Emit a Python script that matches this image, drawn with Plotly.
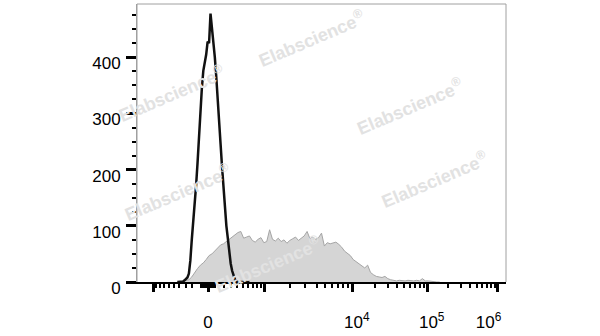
import numpy as np
import plotly.graph_objects as go

# ---- data -------------------------------------------------------------
# display channels (0-256 display scale) for each histogram bin
black_channels = list(range(28, 79))
black_counts = [0, 0, 0, 0, 1, 3, 5, 8, 15, 38,
                75, 104, 140, 172, 212, 262, 305, 345, 376, 390,
                405, 428, 425, 478, 455, 425, 400, 365, 330, 290,
                245, 205, 165, 132, 100, 78, 50, 33, 20, 10,
                4, 2, 1, 0, 0, 0, 0, 0, 0, 0, 0]

gray_channels = list(range(28, 212, 2))
gray_counts = [0, 0, 1, 3, 4, 9, 17, 24, 30, 34,
               40, 47, 50, 55, 61, 66, 68, 72, 76, 80,
               84, 88, 90, 78, 80, 82, 74, 71, 76, 79,
               70, 72, 93, 76, 73, 78, 72, 75, 69, 74,
               77, 80, 74, 78, 82, 90, 77, 80, 76, 79,
               87, 64, 70, 68, 70, 71, 67, 62, 55, 51,
               47, 40, 36, 33, 28, 25, 30, 17, 13, 10,
               9, 8, 10, 6, 4, 3, 2, 3, 2, 2,
               3, 2, 2, 3, 2, 6, 2, 2, 1, 1,
               0, 0]

x_major_values = [-1000, 0, 1000, 1e4, 1e5, 1e6]
x_major_labels = ["", "0", "", "&nbsp;&nbsp;10<sup>4</sup>",
                  "&nbsp;&nbsp;10<sup>5</sup>",
                  "10<sup>6</sup>&nbsp;&nbsp;&nbsp;&nbsp;"]
x_minor_values = ([-v for v in range(900, 100, -100)] + [-v for v in range(90, 0, -10)]
                  + list(range(10, 100, 10)) + list(range(200, 1000, 100))
                  + list(range(2000, 10000, 1000)) + list(range(20000, 100000, 10000))
                  + list(range(200000, 1000000, 100000)))
y_tick_values = [0, 100, 200, 300, 400]
y_tick_labels = ["0", "100", "200", "300", "400"]

watermark_text = "Elabscience<sup>®</sup>"

# ---- biexponential-like display scale ---------------------------------
SCALE_VALUES = [-1000, -100, 0, 100, 1000, 1e4, 1e5, 1e6]
SCALE_CHANNELS = [11.1, 43.7, 49.3, 54.8, 88.4, 149.2, 201.2, 250.4]


def to_channel(v):
    u = np.arcsinh(np.asarray(v, dtype=float) / 450.0)
    ua = np.arcsinh(np.asarray(SCALE_VALUES, dtype=float) / 450.0)
    return np.interp(u, ua, SCALE_CHANNELS).tolist()


FONT = "Liberation Sans, Arial, sans-serif"

fig = go.Figure()
fig.add_trace(go.Scatter(x=gray_channels, y=gray_counts, mode="lines",
                         line=dict(color="#a5a5a5", width=1),
                         fill="tozeroy", fillcolor="#d5d5d5",
                         hoverinfo="skip", showlegend=False))
fig.add_trace(go.Scatter(x=black_channels, y=black_counts, mode="lines",
                         line=dict(color="#111111", width=2.5),
                         hoverinfo="skip", showlegend=False))

# frame (top, left, right) in light grey
fig.add_shape(type="path", xref="paper", yref="paper",
              path="M 0 0 L 0 1 L 1 1 L 1 0",
              line=dict(color="#a0a0a0", width=1), layer="below")

wm_pos = [(0.474, 0.875), (0.095, 0.678), (0.740, 0.633),
          (0.111, 0.322), (0.808, 0.367), (0.355, 0.062)]
for (px, py) in wm_pos:
    fig.add_annotation(x=px, y=py, xref="paper", yref="paper",
                       xanchor="center", yanchor="middle",
                       text=watermark_text, showarrow=False, textangle=-23,
                       font=dict(family=FONT, size=18, color="#e2e2e2", weight="bold"))

fig.update_layout(
    width=600, height=336,
    margin=dict(l=137, r=94, t=4, b=43),
    paper_bgcolor="white", plot_bgcolor="white",
    font=dict(family=FONT, size=17, color="black"),
    xaxis=dict(range=[0, 256], showgrid=False, zeroline=False,
               showline=True, linecolor="black", linewidth=2,
               tickmode="array", tickvals=to_channel(x_major_values),
               ticktext=x_major_labels, ticks="outside", ticklen=8,
               tickwidth=3, tickcolor="black", ticklabelstandoff=16,
               tickfont=dict(family=FONT, size=17, color="black"),
               minor=dict(tickmode="array", tickvals=to_channel(x_minor_values),
                          ticks="outside", ticklen=4, tickwidth=2,
                          tickcolor="black", showgrid=False)),
    yaxis=dict(range=[0, 495], showgrid=False, zeroline=False,
               showline=True, linecolor="#a0a0a0", linewidth=1,
               tickmode="array", tickvals=y_tick_values, ticktext=y_tick_labels,
               ticks="outside", ticklen=10, tickwidth=2.5, tickcolor="black",
               ticklabelstandoff=2, ticklabelshift=6,
               tickfont=dict(family=FONT, size=17, color="black"),
               minor=dict(tick0=0, dtick=25, ticks="outside", ticklen=4,
                          tickwidth=2, tickcolor="black", showgrid=False)),
)

fig.write_html("out.html")
